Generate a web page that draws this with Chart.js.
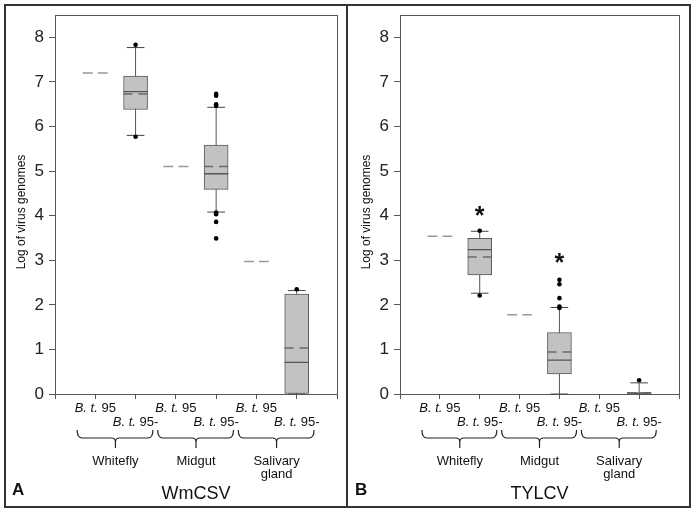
<!DOCTYPE html>
<html>
<head>
<meta charset="utf-8">
<script src="https://cdn.jsdelivr.net/npm/chart.js@4.4.0/dist/chart.umd.min.js"></script>
<style>
body{margin:0;background:#fff;}
#page{position:relative;width:695px;height:513px;}
#frame{position:absolute;left:4px;top:4px;width:687px;height:504px;border:2px solid #333;box-sizing:border-box;}
#divider{position:absolute;left:346px;top:4px;width:2px;height:504px;background:#333;}
canvas{position:absolute;top:6px;}
#chartA{left:6px;}
#chartB{left:349px;}
</style>
</head>
<body>
<div id="page">
  <div id="frame"></div>
  <div id="divider"></div>
  <canvas id="chartA" width="339" height="499"></canvas>
  <canvas id="chartB" width="339" height="499"></canvas>
</div>
<script>
// categories
var groups = ['Whitefly', 'Midgut', 'Salivary gland'];
var strains = ['95', '95-'];          // printed as "B. t. 95" / "B. t. 95-"
var yTicks = [0, 1, 2, 3, 4, 5, 6, 7, 8];

// A - WmCSV
var wmSingle   = [7.2, 5.1, 2.97];     // B. t. 95 (single value)
var wmQ1       = [6.38, 4.59, 0];      // B. t. 95- boxes
var wmQ3       = [7.13, 5.58, 2.24];
var wmMedian   = [6.78, 4.94, 0.71];
var wmMean     = [6.73, 5.10, 1.03];
var wmWhiskLo  = [5.80, 4.08, 0];
var wmWhiskHi  = [7.77, 6.43, 2.32];
var wmOutliers = [[7.83, 5.77], [6.73, 6.69, 6.50, 6.46, 4.07, 4.03, 3.86, 3.49], [2.35]];
var wmStars    = [null, null, null];

// B - TYLCV
var tySingle   = [3.54, 1.78, null];
var tyQ1       = [2.67, 0.45, 0];
var tyQ3       = [3.49, 1.38, 0.04];
var tyMedian   = [3.24, 0.76, 0.02];
var tyMean     = [3.07, 0.94, 0.03];
var tyWhiskLo  = [2.26, 0, 0];
var tyWhiskHi  = [3.65, 1.94, 0.25];
var tyOutliers = [[3.66, 2.21], [2.56, 2.46, 2.15, 1.96, 1.93], [0.31]];
var tyStars    = [4.16, 3.09, null];

var FONT = '"Liberation Sans", Arial, sans-serif';

// x position of group g / strain s
function pos(g, s){ return 2 * g + s + 1; }

// list of [x0,y0,x1,y1] -> line points with gaps
function segs(list){
  var pts = [];
  list.forEach(function(s){
    pts.push({x: s[0], y: s[1]}, {x: s[2], y: s[3]}, {x: s[2], y: null});
  });
  return pts;
}

function buildDatasets(single, q1, q3, med, mean, lo, hi, outl){
  var box = [], whisk = [], caps = [], meds = [], means = [], singles = [], dots = [];
  for (var g = 0; g < groups.length; g++){
    var x = pos(g, 1);
    box.push({x: x, y: [q1[g], q3[g]]});
    whisk.push([x, lo[g], x, hi[g]]);
    caps.push([x - 0.22, lo[g], x + 0.22, lo[g]]);
    caps.push([x - 0.22, hi[g], x + 0.22, hi[g]]);
    meds.push([x - 0.3, med[g], x + 0.3, med[g]]);
    means.push([x - 0.3, mean[g], x + 0.3, mean[g]]);
    if (single[g] !== null){
      var xs = pos(g, 0);
      singles.push([xs - 0.31, single[g], xs + 0.31, single[g]]);
    }
    outl[g].forEach(function(v){ dots.push({x: x, y: v}); });
  }
  var line = {type: 'line', pointRadius: 0, fill: false, tension: 0, spanGaps: false};
  return [
    Object.assign({}, line, {data: segs(whisk), borderColor: '#555', borderWidth: 1, order: 6}),
    {type: 'bar', data: box, backgroundColor: '#c2c2c2', borderColor: '#5a5a5a', borderWidth: 1,
     borderSkipped: false, barThickness: 24, order: 5},
    Object.assign({}, line, {data: segs(caps), borderColor: '#444', borderWidth: 1, order: 4}),
    Object.assign({}, line, {data: segs(meds), borderColor: '#555', borderWidth: 1.3, order: 3}),
    Object.assign({}, line, {data: segs(means), borderColor: '#6a6a6a', borderWidth: 1.5, borderDash: [9, 6], order: 2}),
    Object.assign({}, line, {data: segs(singles), borderColor: '#999', borderWidth: 1.5, borderDash: [10, 5], order: 2}),
    Object.assign({}, line, {data: dots, showLine: false, pointRadius: 2.3, pointBackgroundColor: '#000',
     pointBorderWidth: 0, order: 1})
  ];
}

function drawStrain(ctx, cx, cy, num){
  var it = 'italic 13px ' + FONT, rg = '13px ' + FONT;
  ctx.font = it; var w1 = ctx.measureText('B. t.').width;
  ctx.font = rg; var w2 = ctx.measureText(' ' + num).width;
  var x0 = cx - (w1 + w2) / 2;
  ctx.textAlign = 'left'; ctx.textBaseline = 'middle';
  ctx.font = it; ctx.fillText('B. t.', x0, cy);
  ctx.font = rg; ctx.fillText(' ' + num, x0 + w1, cy);
}

function decorPlugin(letter, title, stars, titleX){
  return {
    id: 'decor',
    afterDraw: function(chart){
      var ctx = chart.ctx, a = chart.chartArea, xs = chart.scales.x, ys = chart.scales.y;
      ctx.save();
      // plot frame
      ctx.strokeStyle = '#555'; ctx.lineWidth = 1;
      ctx.strokeRect(Math.round(a.left) + 0.5, Math.round(a.top) + 0.5,
                     Math.round(a.right - a.left), Math.round(a.bottom - a.top));
      ctx.fillStyle = '#111';
      // strain labels
      for (var g = 0; g < groups.length; g++){
        drawStrain(ctx, xs.getPixelForValue(pos(g, 0)), a.bottom + 14, strains[0]);
        drawStrain(ctx, xs.getPixelForValue(pos(g, 1)), a.bottom + 28, strains[1]);
        // brace
        var xa = xs.getPixelForValue(2 * g + 0.55), xb = xs.getPixelForValue(2 * g + 2.43);
        var xm = xs.getPixelForValue(2 * g + 1.5);
        var y0 = a.bottom + 36, y1 = a.bottom + 44, tip = a.bottom + 54;
        ctx.strokeStyle = '#222'; ctx.lineWidth = 1.2;
        ctx.beginPath();
        ctx.moveTo(xa, y0);
        ctx.quadraticCurveTo(xa, y1, xa + 5, y1);
        ctx.lineTo(xm - 4, y1);
        ctx.quadraticCurveTo(xm, y1, xm, y1 + 4);
        ctx.lineTo(xm, tip);
        ctx.moveTo(xm, y1 + 4);
        ctx.quadraticCurveTo(xm, y1, xm + 4, y1);
        ctx.lineTo(xb - 5, y1);
        ctx.quadraticCurveTo(xb, y1, xb, y0);
        ctx.stroke();
        // group name
        ctx.font = '13px ' + FONT; ctx.textAlign = 'center'; ctx.textBaseline = 'middle';
        groups[g].split(' ').forEach(function(w, i){
          ctx.fillText(w, xm, a.bottom + 67 + i * 13);
        });
        // significance star
        if (stars[g] !== null){
          ctx.font = 'bold 25px ' + FONT; ctx.textBaseline = 'alphabetic';
          ctx.fillText('*', xs.getPixelForValue(pos(g, 1)), ys.getPixelForValue(stars[g]) + 15);
        }
      }
      // y title
      ctx.save();
      ctx.translate(titleX, 206);
      ctx.rotate(-Math.PI / 2);
      ctx.font = '12px ' + FONT; ctx.textAlign = 'center'; ctx.textBaseline = 'middle';
      ctx.fillText('Log of virus genomes', 0, 0);
      ctx.restore();
      // panel letter and virus name
      ctx.font = 'bold 17px ' + FONT; ctx.textAlign = 'left'; ctx.textBaseline = 'middle';
      ctx.fillText(letter, 6, 484);
      ctx.font = '18px ' + FONT; ctx.textAlign = 'center';
      ctx.fillText(title, (a.left + a.right) / 2, 488);
      ctx.restore();
    }
  };
}

function makeChart(id, datasets, yWidth, padRight, letter, title, stars, titleX){
  return new Chart(document.getElementById(id).getContext('2d'), {
    type: 'bar',
    data: {datasets: datasets},
    options: {
      responsive: false,
      animation: false,
      layout: {padding: {top: 9, right: padRight, left: 0, bottom: 0}},
      plugins: {legend: {display: false}, tooltip: {enabled: false}},
      scales: {
        x: {
          type: 'linear', min: 0, max: 7, offset: false,
          grid: {offset: false, drawOnChartArea: false, tickLength: 5, color: '#555'},
          border: {color: '#555'},
          ticks: {stepSize: 1, callback: function(){ return ''; }},
          afterFit: function(s){ s.height = 111; s.paddingLeft = 0; s.paddingRight = 0; }
        },
        y: {
          min: 0, max: 8.5,
          grid: {drawOnChartArea: false, tickLength: 6, color: '#555'},
          border: {color: '#555'},
          afterBuildTicks: function(s){ s.ticks = yTicks.map(function(v){ return {value: v}; }); },
          ticks: {font: {family: FONT, size: 17}, color: '#222', padding: 5},
          afterFit: function(s){ s.width = yWidth; s.paddingTop = 0; s.paddingBottom = 0; }
        }
      }
    },
    plugins: [decorPlugin(letter, title, stars, titleX)]
  });
}

makeChart('chartA', buildDatasets(wmSingle, wmQ1, wmQ3, wmMedian, wmMean, wmWhiskLo, wmWhiskHi, wmOutliers),
          49, 8, 'A', 'WmCSV', wmStars, 16);
makeChart('chartB', buildDatasets(tySingle, tyQ1, tyQ3, tyMedian, tyMean, tyWhiskLo, tyWhiskHi, tyOutliers),
          51, 9, 'B', 'TYLCV', tyStars, 18);
</script>
</body>
</html>
